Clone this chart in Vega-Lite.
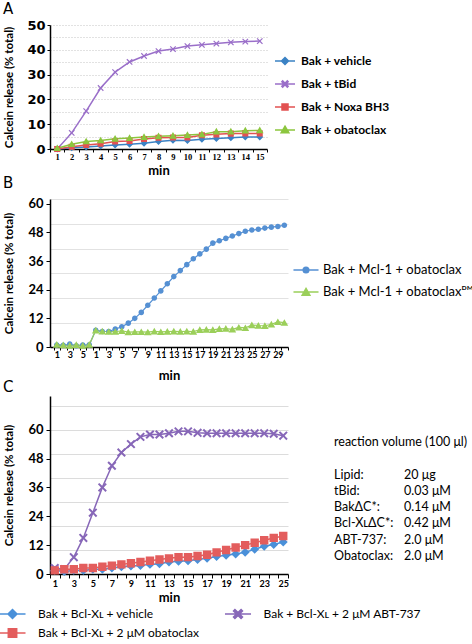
{
"$schema": "https://vega.github.io/schema/vega-lite/v6.json",
"padding": {"left": 2, "top": 2, "right": 0, "bottom": 0},
"spacing": -2,
"resolve": {"scale": {"fill": "independent", "stroke": "independent", "shape": "independent", "x": "independent", "y": "independent"}, "legend": {"fill": "independent", "stroke": "independent", "shape": "independent"}},
"config": {
  "view": {"stroke": null},
  "axis": {"domainColor": "#000", "tickColor": "#000", "labelColor": "#000", "titleColor": "#000", "domainWidth": 1.5, "tickWidth": 1, "grid": false, "labelOverlap": false},
  "title": {"font": "DejaVu Sans", "fontSize": 15, "fontWeight": "normal", "anchor": "start", "frame": "bounds", "color": "#000"},
  "legend": {"labelFont": "Lato", "labelColor": "#000", "symbolSize": 196, "symbolStrokeWidth": 1.5, "labelLimit": 300}
},
"datasets": {
  "A": [
    {"min":1,"s":"Bak + vehicle","v":0},{"min":2,"s":"Bak + vehicle","v":0.5},{"min":3,"s":"Bak + vehicle","v":0.8},{"min":4,"s":"Bak + vehicle","v":1.2},{"min":5,"s":"Bak + vehicle","v":1.6},{"min":6,"s":"Bak + vehicle","v":1.9},{"min":7,"s":"Bak + vehicle","v":2.3},{"min":8,"s":"Bak + vehicle","v":3.0},{"min":9,"s":"Bak + vehicle","v":3.5},{"min":10,"s":"Bak + vehicle","v":3.4},{"min":11,"s":"Bak + vehicle","v":3.9},{"min":12,"s":"Bak + vehicle","v":4.2},{"min":13,"s":"Bak + vehicle","v":4.5},{"min":14,"s":"Bak + vehicle","v":4.8},{"min":15,"s":"Bak + vehicle","v":4.8},
    {"min":1,"s":"Bak + tBid","v":0},{"min":2,"s":"Bak + tBid","v":6.5},{"min":3,"s":"Bak + tBid","v":15.3},{"min":4,"s":"Bak + tBid","v":24.6},{"min":5,"s":"Bak + tBid","v":31},{"min":6,"s":"Bak + tBid","v":35.1},{"min":7,"s":"Bak + tBid","v":37.5},{"min":8,"s":"Bak + tBid","v":39.5},{"min":9,"s":"Bak + tBid","v":40.3},{"min":10,"s":"Bak + tBid","v":41.5},{"min":11,"s":"Bak + tBid","v":42},{"min":12,"s":"Bak + tBid","v":42.5},{"min":13,"s":"Bak + tBid","v":43},{"min":14,"s":"Bak + tBid","v":43.3},{"min":15,"s":"Bak + tBid","v":43.5},
    {"min":1,"s":"Bak + Noxa BH3","v":0},{"min":2,"s":"Bak + Noxa BH3","v":0.9},{"min":3,"s":"Bak + Noxa BH3","v":1.6},{"min":4,"s":"Bak + Noxa BH3","v":2.1},{"min":5,"s":"Bak + Noxa BH3","v":3.0},{"min":6,"s":"Bak + Noxa BH3","v":3.2},{"min":7,"s":"Bak + Noxa BH3","v":4.0},{"min":8,"s":"Bak + Noxa BH3","v":4.5},{"min":9,"s":"Bak + Noxa BH3","v":4.6},{"min":10,"s":"Bak + Noxa BH3","v":4.6},{"min":11,"s":"Bak + Noxa BH3","v":5.5},{"min":12,"s":"Bak + Noxa BH3","v":5.9},{"min":13,"s":"Bak + Noxa BH3","v":6.2},{"min":14,"s":"Bak + Noxa BH3","v":6.3},{"min":15,"s":"Bak + Noxa BH3","v":6.3},
    {"min":1,"s":"Bak + obatoclax","v":0.3},{"min":2,"s":"Bak + obatoclax","v":1.9},{"min":3,"s":"Bak + obatoclax","v":3.0},{"min":4,"s":"Bak + obatoclax","v":3.4},{"min":5,"s":"Bak + obatoclax","v":4.1},{"min":6,"s":"Bak + obatoclax","v":4.4},{"min":7,"s":"Bak + obatoclax","v":4.8},{"min":8,"s":"Bak + obatoclax","v":5.1},{"min":9,"s":"Bak + obatoclax","v":5.3},{"min":10,"s":"Bak + obatoclax","v":5.6},{"min":11,"s":"Bak + obatoclax","v":5.9},{"min":12,"s":"Bak + obatoclax","v":7.0},{"min":13,"s":"Bak + obatoclax","v":7.0},{"min":14,"s":"Bak + obatoclax","v":7.4},{"min":15,"s":"Bak + obatoclax","v":7.5}
  ],
  "B": [
    {"t":1,"s":"Bak + Mcl-1 + obatoclax","v":0.8},{"t":2,"s":"Bak + Mcl-1 + obatoclax","v":0.7},{"t":3,"s":"Bak + Mcl-1 + obatoclax","v":1.2},{"t":4,"s":"Bak + Mcl-1 + obatoclax","v":0.5},{"t":5,"s":"Bak + Mcl-1 + obatoclax","v":0.8},{"t":6,"s":"Bak + Mcl-1 + obatoclax","v":0.9},
    {"t":7,"s":"Bak + Mcl-1 + obatoclax","v":7},{"t":8,"s":"Bak + Mcl-1 + obatoclax","v":6.5},{"t":9,"s":"Bak + Mcl-1 + obatoclax","v":6.5},{"t":10,"s":"Bak + Mcl-1 + obatoclax","v":7.5},{"t":11,"s":"Bak + Mcl-1 + obatoclax","v":8.5},{"t":12,"s":"Bak + Mcl-1 + obatoclax","v":10},{"t":13,"s":"Bak + Mcl-1 + obatoclax","v":12},{"t":14,"s":"Bak + Mcl-1 + obatoclax","v":14.5},{"t":15,"s":"Bak + Mcl-1 + obatoclax","v":17.5},{"t":16,"s":"Bak + Mcl-1 + obatoclax","v":20.5},{"t":17,"s":"Bak + Mcl-1 + obatoclax","v":23.5},{"t":18,"s":"Bak + Mcl-1 + obatoclax","v":26.5},{"t":19,"s":"Bak + Mcl-1 + obatoclax","v":29.5},{"t":20,"s":"Bak + Mcl-1 + obatoclax","v":32},{"t":21,"s":"Bak + Mcl-1 + obatoclax","v":34.5},{"t":22,"s":"Bak + Mcl-1 + obatoclax","v":37},{"t":23,"s":"Bak + Mcl-1 + obatoclax","v":39},{"t":24,"s":"Bak + Mcl-1 + obatoclax","v":41},{"t":25,"s":"Bak + Mcl-1 + obatoclax","v":43.5},{"t":26,"s":"Bak + Mcl-1 + obatoclax","v":44.5},{"t":27,"s":"Bak + Mcl-1 + obatoclax","v":45.5},{"t":28,"s":"Bak + Mcl-1 + obatoclax","v":46.5},{"t":29,"s":"Bak + Mcl-1 + obatoclax","v":47.5},{"t":30,"s":"Bak + Mcl-1 + obatoclax","v":48.5},{"t":31,"s":"Bak + Mcl-1 + obatoclax","v":49},{"t":32,"s":"Bak + Mcl-1 + obatoclax","v":49.3},{"t":33,"s":"Bak + Mcl-1 + obatoclax","v":49.8},{"t":34,"s":"Bak + Mcl-1 + obatoclax","v":50.2},{"t":35,"s":"Bak + Mcl-1 + obatoclax","v":50.5},{"t":36,"s":"Bak + Mcl-1 + obatoclax","v":51},
    {"t":1,"s":"Bak + Mcl-1 + obatoclaxᴰᴹ","v":1.0},{"t":2,"s":"Bak + Mcl-1 + obatoclaxᴰᴹ","v":0.8},{"t":3,"s":"Bak + Mcl-1 + obatoclaxᴰᴹ","v":0.6},{"t":4,"s":"Bak + Mcl-1 + obatoclaxᴰᴹ","v":0.9},{"t":5,"s":"Bak + Mcl-1 + obatoclaxᴰᴹ","v":0.6},{"t":6,"s":"Bak + Mcl-1 + obatoclaxᴰᴹ","v":1.0},
    {"t":7,"s":"Bak + Mcl-1 + obatoclaxᴰᴹ","v":7},{"t":8,"s":"Bak + Mcl-1 + obatoclaxᴰᴹ","v":6.6},{"t":9,"s":"Bak + Mcl-1 + obatoclaxᴰᴹ","v":6.4},{"t":10,"s":"Bak + Mcl-1 + obatoclaxᴰᴹ","v":6.4},{"t":11,"s":"Bak + Mcl-1 + obatoclaxᴰᴹ","v":6.8},{"t":12,"s":"Bak + Mcl-1 + obatoclaxᴰᴹ","v":6.2},{"t":13,"s":"Bak + Mcl-1 + obatoclaxᴰᴹ","v":6.3},{"t":14,"s":"Bak + Mcl-1 + obatoclaxᴰᴹ","v":6.3},{"t":15,"s":"Bak + Mcl-1 + obatoclaxᴰᴹ","v":6.2},{"t":16,"s":"Bak + Mcl-1 + obatoclaxᴰᴹ","v":6.6},{"t":17,"s":"Bak + Mcl-1 + obatoclaxᴰᴹ","v":6.3},{"t":18,"s":"Bak + Mcl-1 + obatoclaxᴰᴹ","v":6.5},{"t":19,"s":"Bak + Mcl-1 + obatoclaxᴰᴹ","v":6.6},{"t":20,"s":"Bak + Mcl-1 + obatoclaxᴰᴹ","v":6.5},{"t":21,"s":"Bak + Mcl-1 + obatoclaxᴰᴹ","v":6.6},{"t":22,"s":"Bak + Mcl-1 + obatoclaxᴰᴹ","v":6.5},{"t":23,"s":"Bak + Mcl-1 + obatoclaxᴰᴹ","v":7.2},{"t":24,"s":"Bak + Mcl-1 + obatoclaxᴰᴹ","v":7.3},{"t":25,"s":"Bak + Mcl-1 + obatoclaxᴰᴹ","v":7.2},{"t":26,"s":"Bak + Mcl-1 + obatoclaxᴰᴹ","v":7.6},{"t":27,"s":"Bak + Mcl-1 + obatoclaxᴰᴹ","v":7.7},{"t":28,"s":"Bak + Mcl-1 + obatoclaxᴰᴹ","v":7.4},{"t":29,"s":"Bak + Mcl-1 + obatoclaxᴰᴹ","v":8.2},{"t":30,"s":"Bak + Mcl-1 + obatoclaxᴰᴹ","v":8.0},{"t":31,"s":"Bak + Mcl-1 + obatoclaxᴰᴹ","v":9.2},{"t":32,"s":"Bak + Mcl-1 + obatoclaxᴰᴹ","v":9.0},{"t":33,"s":"Bak + Mcl-1 + obatoclaxᴰᴹ","v":8.9},{"t":34,"s":"Bak + Mcl-1 + obatoclaxᴰᴹ","v":9.5},{"t":35,"s":"Bak + Mcl-1 + obatoclaxᴰᴹ","v":10.5},{"t":36,"s":"Bak + Mcl-1 + obatoclaxᴰᴹ","v":10.2}
  ],
  "C": [
    {"min":1,"s":"Bak + Bcl-Xʟ + vehicle","v":1.5},{"min":2,"s":"Bak + Bcl-Xʟ + vehicle","v":1},{"min":3,"s":"Bak + Bcl-Xʟ + vehicle","v":1.5},{"min":4,"s":"Bak + Bcl-Xʟ + vehicle","v":1.5},{"min":5,"s":"Bak + Bcl-Xʟ + vehicle","v":2},{"min":6,"s":"Bak + Bcl-Xʟ + vehicle","v":2},{"min":7,"s":"Bak + Bcl-Xʟ + vehicle","v":2.5},{"min":8,"s":"Bak + Bcl-Xʟ + vehicle","v":3},{"min":9,"s":"Bak + Bcl-Xʟ + vehicle","v":3.3},{"min":10,"s":"Bak + Bcl-Xʟ + vehicle","v":3.5},{"min":11,"s":"Bak + Bcl-Xʟ + vehicle","v":4},{"min":12,"s":"Bak + Bcl-Xʟ + vehicle","v":4.3},{"min":13,"s":"Bak + Bcl-Xʟ + vehicle","v":5},{"min":14,"s":"Bak + Bcl-Xʟ + vehicle","v":5.3},{"min":15,"s":"Bak + Bcl-Xʟ + vehicle","v":5.5},{"min":16,"s":"Bak + Bcl-Xʟ + vehicle","v":6},{"min":17,"s":"Bak + Bcl-Xʟ + vehicle","v":6.5},{"min":18,"s":"Bak + Bcl-Xʟ + vehicle","v":7.3},{"min":19,"s":"Bak + Bcl-Xʟ + vehicle","v":7.8},{"min":20,"s":"Bak + Bcl-Xʟ + vehicle","v":8.3},{"min":21,"s":"Bak + Bcl-Xʟ + vehicle","v":9},{"min":22,"s":"Bak + Bcl-Xʟ + vehicle","v":10.3},{"min":23,"s":"Bak + Bcl-Xʟ + vehicle","v":11.5},{"min":24,"s":"Bak + Bcl-Xʟ + vehicle","v":12.3},{"min":25,"s":"Bak + Bcl-Xʟ + vehicle","v":13.3},
    {"min":1,"s":"Bak + Bcl-Xʟ + 2 μM ABT-737","v":2.5},{"min":2,"s":"Bak + Bcl-Xʟ + 2 μM ABT-737","v":2},{"min":3,"s":"Bak + Bcl-Xʟ + 2 μM ABT-737","v":7},{"min":4,"s":"Bak + Bcl-Xʟ + 2 μM ABT-737","v":15},{"min":5,"s":"Bak + Bcl-Xʟ + 2 μM ABT-737","v":25.5},{"min":6,"s":"Bak + Bcl-Xʟ + 2 μM ABT-737","v":36},{"min":7,"s":"Bak + Bcl-Xʟ + 2 μM ABT-737","v":45},{"min":8,"s":"Bak + Bcl-Xʟ + 2 μM ABT-737","v":50.5},{"min":9,"s":"Bak + Bcl-Xʟ + 2 μM ABT-737","v":54},{"min":10,"s":"Bak + Bcl-Xʟ + 2 μM ABT-737","v":57},{"min":11,"s":"Bak + Bcl-Xʟ + 2 μM ABT-737","v":58},{"min":12,"s":"Bak + Bcl-Xʟ + 2 μM ABT-737","v":58},{"min":13,"s":"Bak + Bcl-Xʟ + 2 μM ABT-737","v":58.5},{"min":14,"s":"Bak + Bcl-Xʟ + 2 μM ABT-737","v":59.3},{"min":15,"s":"Bak + Bcl-Xʟ + 2 μM ABT-737","v":59.3},{"min":16,"s":"Bak + Bcl-Xʟ + 2 μM ABT-737","v":58.7},{"min":17,"s":"Bak + Bcl-Xʟ + 2 μM ABT-737","v":58.5},{"min":18,"s":"Bak + Bcl-Xʟ + 2 μM ABT-737","v":58.5},{"min":19,"s":"Bak + Bcl-Xʟ + 2 μM ABT-737","v":58.5},{"min":20,"s":"Bak + Bcl-Xʟ + 2 μM ABT-737","v":58.5},{"min":21,"s":"Bak + Bcl-Xʟ + 2 μM ABT-737","v":58.5},{"min":22,"s":"Bak + Bcl-Xʟ + 2 μM ABT-737","v":58.5},{"min":23,"s":"Bak + Bcl-Xʟ + 2 μM ABT-737","v":58.5},{"min":24,"s":"Bak + Bcl-Xʟ + 2 μM ABT-737","v":58.3},{"min":25,"s":"Bak + Bcl-Xʟ + 2 μM ABT-737","v":57.5},
    {"min":1,"s":"Bak + Bcl-Xʟ + 2 μM obatoclax","v":1.5},{"min":2,"s":"Bak + Bcl-Xʟ + 2 μM obatoclax","v":2},{"min":3,"s":"Bak + Bcl-Xʟ + 2 μM obatoclax","v":2},{"min":4,"s":"Bak + Bcl-Xʟ + 2 μM obatoclax","v":2.5},{"min":5,"s":"Bak + Bcl-Xʟ + 2 μM obatoclax","v":2.5},{"min":6,"s":"Bak + Bcl-Xʟ + 2 μM obatoclax","v":3},{"min":7,"s":"Bak + Bcl-Xʟ + 2 μM obatoclax","v":3.5},{"min":8,"s":"Bak + Bcl-Xʟ + 2 μM obatoclax","v":4},{"min":9,"s":"Bak + Bcl-Xʟ + 2 μM obatoclax","v":4.5},{"min":10,"s":"Bak + Bcl-Xʟ + 2 μM obatoclax","v":5},{"min":11,"s":"Bak + Bcl-Xʟ + 2 μM obatoclax","v":5.5},{"min":12,"s":"Bak + Bcl-Xʟ + 2 μM obatoclax","v":6},{"min":13,"s":"Bak + Bcl-Xʟ + 2 μM obatoclax","v":6.5},{"min":14,"s":"Bak + Bcl-Xʟ + 2 μM obatoclax","v":7},{"min":15,"s":"Bak + Bcl-Xʟ + 2 μM obatoclax","v":7},{"min":16,"s":"Bak + Bcl-Xʟ + 2 μM obatoclax","v":7.5},{"min":17,"s":"Bak + Bcl-Xʟ + 2 μM obatoclax","v":8},{"min":18,"s":"Bak + Bcl-Xʟ + 2 μM obatoclax","v":9},{"min":19,"s":"Bak + Bcl-Xʟ + 2 μM obatoclax","v":10},{"min":20,"s":"Bak + Bcl-Xʟ + 2 μM obatoclax","v":11},{"min":21,"s":"Bak + Bcl-Xʟ + 2 μM obatoclax","v":12},{"min":22,"s":"Bak + Bcl-Xʟ + 2 μM obatoclax","v":13},{"min":23,"s":"Bak + Bcl-Xʟ + 2 μM obatoclax","v":14},{"min":24,"s":"Bak + Bcl-Xʟ + 2 μM obatoclax","v":15},{"min":25,"s":"Bak + Bcl-Xʟ + 2 μM obatoclax","v":15.8}
  ],
  "info": [
    {"label":"reaction volume (100 μl)","amount":""},
    {"label":"Lipid:","amount":"20 μg"},
    {"label":"tBid:","amount":"0.03 μM"},
    {"label":"BakΔC*:","amount":"0.14 μM"},
    {"label":"Bcl-XʟΔC*:","amount":"0.42 μM"},
    {"label":"ABT-737:","amount":"2.0 μM"},
    {"label":"Obatoclax:","amount":"2.0 μM"}
  ]
},
"vconcat": [
  {
    "title": {"text": "A", "offset": 2},
    "width": 217, "height": 124,
    "data": {"name": "A"},
    "encoding": {
      "x": {"field": "min", "type": "ordinal", "scale": {"type": "band", "paddingInner": 0, "paddingOuter": 0},
        "axis": {"title": "min", "titleFont": "Lato", "titleFontSize": 13, "titleFontWeight": "bold", "titlePadding": 4, "labelFont": "Liberation Serif", "labelFontSize": 8.5, "labelFontWeight": "bold", "labelAngle": 0, "tickBand": "extent", "tickSize": 3, "labelPadding": 0}},
      "y": {"field": "v", "type": "quantitative", "scale": {"domain": [0, 50], "nice": false},
        "axis": {"title": "Calcein release (% total)", "titleFont": "Lato", "titleFontSize": 11.5, "titleFontWeight": "bold", "titlePadding": 6, "minExtent": 30, "maxExtent": 30,
          "values": [0,5,10,15,20,25,30,35,40,45,50],
          "labelExpr": "datum.value % 10 === 0 ? datum.label : ''",
          "labelFont": "DejaVu Sans", "labelFontSize": 13, "labelFontWeight": "bold", "labelPadding": 2, "tickSize": 3,
          "tickColor": {"condition": {"test": "datum.value % 10 !== 0", "value": "transparent"}, "value": "#000"},
          "grid": true, "gridDash": [1, 2],
          "gridColor": {"condition": {"test": "datum.value === 0", "value": "transparent"}, "value": "#c4c4c4"}}}
    },
    "layer": [
      {"mark": {"type": "line", "strokeWidth": 1.5},
       "encoding": {"stroke": {"field": "s", "type": "nominal",
         "scale": {"domain": ["Bak + vehicle", "Bak + tBid", "Bak + Noxa BH3", "Bak + obatoclax"], "range": ["#3b82c4", "#9a6fc9", "#e25252", "#8cc63e"]},
         "legend": {"title": null, "orient": "none", "legendX": 227, "legendY": 28, "labelFontSize": 12, "labelFontWeight": "bold", "labelOffset": 8, "rowPadding": 8}}}},
      {"mark": {"type": "point", "filled": true, "opacity": 1, "size": 196},
       "encoding": {
         "fill": {"field": "s", "type": "nominal",
           "scale": {"domain": ["Bak + vehicle", "Bak + tBid", "Bak + Noxa BH3", "Bak + obatoclax"], "range": ["#3b82c4", "#9a6fc9", "#e25252", "#8cc63e"]},
           "legend": {"title": null, "orient": "none", "legendX": 227, "legendY": 28, "labelFontSize": 12, "labelFontWeight": "bold", "labelOffset": 8, "rowPadding": 8}},
         "stroke": {"field": "s", "type": "nominal", "scale": {"domain": ["Bak + vehicle", "Bak + tBid", "Bak + Noxa BH3", "Bak + obatoclax"], "range": ["#3b82c4", "#9a6fc9", "#e25252", "#8cc63e"]}},
         "shape": {"field": "s", "type": "nominal",
           "scale": {"domain": ["Bak + vehicle", "Bak + tBid", "Bak + Noxa BH3", "Bak + obatoclax"],
             "range": [
               "M-1.43,0H1.43M0,-0.5L0.5,0L0,0.5L-0.5,0Z",
               "M-1.43,0H1.43M-0.45,-0.33L-0.33,-0.45L0,-0.12L0.33,-0.45L0.45,-0.33L0.12,0L0.45,0.33L0.33,0.45L0,0.12L-0.33,0.45L-0.45,0.33L-0.12,0Z",
               "M-1.43,0H1.43M-0.43,-0.43H0.43V0.43H-0.43Z",
               "M-1.43,0H1.43M0,-0.55L0.55,0.4H-0.55Z"]},
           "legend": {"title": null, "orient": "none", "legendX": 227, "legendY": 28, "labelFontSize": 12, "labelFontWeight": "bold", "labelOffset": 8, "rowPadding": 8}},
         "strokeWidth": {"value": 0}}}
    ]
  },
  {
    "title": {"text": "B", "offset": 2},
    "width": 238, "height": 148,
    "data": {"name": "B"},
    "encoding": {
      "x": {"field": "t", "type": "ordinal", "scale": {"type": "band", "paddingInner": 0, "paddingOuter": 0.3, "align": 0.9},
        "axis": {"title": "min", "titleFont": "Lato", "titleFontSize": 13, "titleFontWeight": "bold", "titlePadding": 10, "labelFont": "Lato", "labelFontSize": 9, "labelFontWeight": "bold", "labelAngle": 0, "tickBand": "extent", "tickSize": 3, "labelPadding": 0,
          "labelExpr": "datum.value <= 6 ? (datum.value % 2 === 1 ? datum.value : '') : ((datum.value - 6) % 2 === 1 ? (datum.value - 6) : '')"}},
      "y": {"field": "v", "type": "quantitative", "scale": {"domain": [0, 62], "nice": false},
        "axis": {"title": "Calcein release (% total)", "titleFont": "Lato", "titleFontSize": 11.5, "titleFontWeight": "bold", "titlePadding": 6, "minExtent": 30, "maxExtent": 30,
          "values": [0, 10.2, 12, 20.5, 24, 30.9, 36, 41.2, 48, 51.6, 60, 62],
          "labelExpr": "datum.value % 12 === 0 ? datum.label : ''",
          "labelFont": "Lato", "labelFontSize": 13, "labelFontWeight": "bold", "labelPadding": 3, "tickSize": 4,
          "tickColor": {"condition": {"test": "datum.value % 12 !== 0", "value": "transparent"}, "value": "#000"},
          "grid": true,
          "gridColor": {"condition": {"test": "datum.value % 12 === 0", "value": "transparent"}, "value": "#e2e2e2"}}}
    },
    "layer": [
      {"mark": {"type": "line", "strokeWidth": 1.2},
       "encoding": {"stroke": {"field": "s", "type": "nominal",
         "scale": {"domain": ["Bak + Mcl-1 + obatoclax", "Bak + Mcl-1 + obatoclaxᴰᴹ"], "range": ["#5590d3", "#9bcf5a"]},
         "legend": {"title": null, "orient": "none", "legendX": 248, "legendY": 63, "labelFontSize": 13, "labelOffset": 9, "rowPadding": 7}}}},
      {"mark": {"type": "point", "filled": true, "opacity": 1, "size": 196},
       "encoding": {
         "fill": {"field": "s", "type": "nominal",
           "scale": {"domain": ["Bak + Mcl-1 + obatoclax", "Bak + Mcl-1 + obatoclaxᴰᴹ"], "range": ["#5590d3", "#9bcf5a"]},
           "legend": {"title": null, "orient": "none", "legendX": 248, "legendY": 63, "labelFontSize": 13, "labelOffset": 9, "rowPadding": 7}},
         "stroke": {"field": "s", "type": "nominal", "scale": {"domain": ["Bak + Mcl-1 + obatoclax", "Bak + Mcl-1 + obatoclaxᴰᴹ"], "range": ["#5590d3", "#9bcf5a"]}},
         "shape": {"field": "s", "type": "nominal",
           "scale": {"domain": ["Bak + Mcl-1 + obatoclax", "Bak + Mcl-1 + obatoclaxᴰᴹ"],
             "range": [
               "M-1.79,0H1.79M-0.4,0A0.4,0.4,0,1,1,0.4,0A0.4,0.4,0,1,1,-0.4,0Z",
               "M-1.79,0H1.79M0,-0.5L0.55,0.45H-0.55Z"]},
           "legend": {"title": null, "orient": "none", "legendX": 248, "legendY": 63, "labelFontSize": 13, "labelOffset": 9, "rowPadding": 7}},
         "strokeWidth": {"value": 0}}},
      {"data": {"values": [{"label": "tBid"}]},
       "mark": {"type": "text", "color": "#e8141b", "font": "Lato", "fontSize": 13, "fontWeight": "bold", "baseline": "middle"},
       "encoding": {"x": {"datum": 6, "type": "ordinal"}, "y": {"datum": 25.3, "type": "quantitative"}, "text": {"field": "label"}}},
      {"data": {"values": [{"label": "tBid"}]},
       "mark": {"type": "rule", "color": "#e8141b", "strokeWidth": 1.5},
       "encoding": {"x": {"datum": 6, "type": "ordinal"}, "y": {"datum": 21.3, "type": "quantitative"}, "y2": {"datum": 14.6}}},
      {"data": {"values": [{"label": "tBid"}]},
       "mark": {"type": "point", "shape": "triangle-down", "filled": true, "color": "#e8141b", "opacity": 1, "size": 45},
       "encoding": {"x": {"datum": 6, "type": "ordinal"}, "y": {"datum": 13.8, "type": "quantitative"}}}
    ]
  },
  {
    "title": {"text": "C", "offset": 1},
    "resolve": {"scale": {"x": "independent", "y": "independent", "fill": "independent", "stroke": "independent", "shape": "independent"}},
    "hconcat": [
      {
        "width": 238, "height": 178,
        "data": {"name": "C"},
        "encoding": {
          "x": {"field": "min", "type": "ordinal", "scale": {"type": "band", "paddingInner": 0, "paddingOuter": 0},
            "axis": {"title": "min", "titleFont": "Lato", "titleFontSize": 13, "titleFontWeight": "bold", "titlePadding": 3, "labelFont": "Lato", "labelFontSize": 9, "labelFontWeight": "bold", "labelAngle": 0, "tickBand": "extent", "tickSize": 4, "labelPadding": 1,
              "labelExpr": "datum.value % 2 === 1 ? datum.label : ''"}},
          "y": {"field": "v", "type": "quantitative", "scale": {"domain": [0, 74], "nice": false},
            "axis": {"title": "Calcein release (% total)", "titleFont": "Lato", "titleFontSize": 11.5, "titleFontWeight": "bold", "titlePadding": 6, "minExtent": 30, "maxExtent": 30,
              "values": [0, 10, 12, 20, 24, 30, 36, 40, 48, 50, 60, 70],
              "labelExpr": "datum.value % 12 === 0 ? datum.label : ''",
              "labelFont": "Lato", "labelFontSize": 13, "labelFontWeight": "bold", "labelPadding": 3, "tickSize": 4,
              "tickColor": {"condition": {"test": "datum.value % 12 !== 0", "value": "transparent"}, "value": "#000"},
              "grid": true,
              "gridColor": {"condition": {"test": "datum.value % 10 !== 0 || datum.value === 0", "value": "transparent"}, "value": "#dcdcdc"}}}
        },
        "layer": [
          {"mark": {"type": "line", "strokeWidth": 1.5},
           "encoding": {"stroke": {"field": "s", "type": "nominal",
             "scale": {"domain": ["Bak + Bcl-Xʟ + vehicle", "Bak + Bcl-Xʟ + 2 μM ABT-737", "Bak + Bcl-Xʟ + 2 μM obatoclax"], "range": ["#4a90d9", "#8767b8", "#e35d5d"]},
             "legend": {"title": null, "orient": "none", "direction": "horizontal", "legendX": -45.5, "legendY": 210, "columns": 2, "gridAlign": "none", "columnPadding": 21.5, "labelFontSize": 12, "labelOffset": 17.5, "rowPadding": 3}}}},
          {"mark": {"type": "point", "filled": true, "opacity": 1, "size": 196},
           "encoding": {
             "fill": {"field": "s", "type": "nominal",
               "scale": {"domain": ["Bak + Bcl-Xʟ + vehicle", "Bak + Bcl-Xʟ + 2 μM ABT-737", "Bak + Bcl-Xʟ + 2 μM obatoclax"], "range": ["#4a90d9", "#8767b8", "#e35d5d"]},
               "legend": {"title": null, "orient": "none", "direction": "horizontal", "legendX": -45.5, "legendY": 210, "columns": 2, "gridAlign": "none", "columnPadding": 21.5, "labelFontSize": 12, "labelOffset": 17.5, "rowPadding": 3}},
             "stroke": {"field": "s", "type": "nominal", "scale": {"domain": ["Bak + Bcl-Xʟ + vehicle", "Bak + Bcl-Xʟ + 2 μM ABT-737", "Bak + Bcl-Xʟ + 2 μM obatoclax"], "range": ["#4a90d9", "#8767b8", "#e35d5d"]}},
             "shape": {"field": "s", "type": "nominal",
               "scale": {"domain": ["Bak + Bcl-Xʟ + vehicle", "Bak + Bcl-Xʟ + 2 μM ABT-737", "Bak + Bcl-Xʟ + 2 μM obatoclax"],
                 "range": [
                   "M-1.86,0H1.86M0,-0.64L0.64,0L0,0.64L-0.64,0Z",
                   "M-1.86,0H1.86M-0.64,-0.44L-0.44,-0.64L0,-0.2L0.44,-0.64L0.64,-0.44L0.2,0L0.64,0.44L0.44,0.64L0,0.2L-0.44,0.64L-0.64,0.44L-0.2,0Z",
                   "M-1.86,0H1.86M-0.6,-0.6H0.6V0.6H-0.6Z"]},
               "legend": {"title": null, "orient": "none", "direction": "horizontal", "legendX": -45.5, "legendY": 210, "columns": 2, "gridAlign": "none", "columnPadding": 21.5, "labelFontSize": 12, "labelOffset": 17.5, "rowPadding": 3}},
             "strokeWidth": {"value": 0}}},
          {"data": {"values": [{"label": "tBid"}]},
           "mark": {"type": "text", "color": "#e8141b", "font": "Lato", "fontSize": 13, "fontWeight": "bold", "baseline": "middle"},
           "encoding": {"x": {"datum": 1, "type": "ordinal"}, "y": {"datum": 22.5, "type": "quantitative"}, "text": {"field": "label"}}},
          {"data": {"values": [{"label": "tBid"}]},
           "mark": {"type": "rule", "color": "#e8141b", "strokeWidth": 1.5},
           "encoding": {"x": {"datum": 1, "type": "ordinal"}, "y": {"datum": 18.7, "type": "quantitative"}, "y2": {"datum": 13.5}}},
          {"data": {"values": [{"label": "tBid"}]},
           "mark": {"type": "point", "shape": "triangle-down", "filled": true, "color": "#e8141b", "opacity": 1, "size": 45},
           "encoding": {"x": {"datum": 1, "type": "ordinal"}, "y": {"datum": 12.3, "type": "quantitative"}}}
        ]
      },
      {
        "width": 70, "height": 178,
        "data": {"name": "info"},
        "transform": [{"fold": ["label", "amount"], "as": ["col", "txt"]}],
        "mark": {"type": "text", "align": "left", "baseline": "middle", "font": "Lato", "fontSize": 12.5, "color": "#000"},
        "encoding": {
          "x": {"field": "col", "type": "nominal", "scale": {"type": "point", "domain": ["label", "amount"], "padding": 0}, "axis": null},
          "y": {"field": "label", "type": "nominal", "scale": {"type": "point", "domain": ["reaction volume (100 μl)", "gap", "Lipid:", "tBid:", "BakΔC*:", "Bcl-XʟΔC*:", "ABT-737:", "Obatoclax:"], "range": [46, 160], "padding": 0}, "axis": null},
          "text": {"field": "txt"}
        }
      }
    ],
    "bounds": "flush",
    "spacing": 46
  }
]
}
